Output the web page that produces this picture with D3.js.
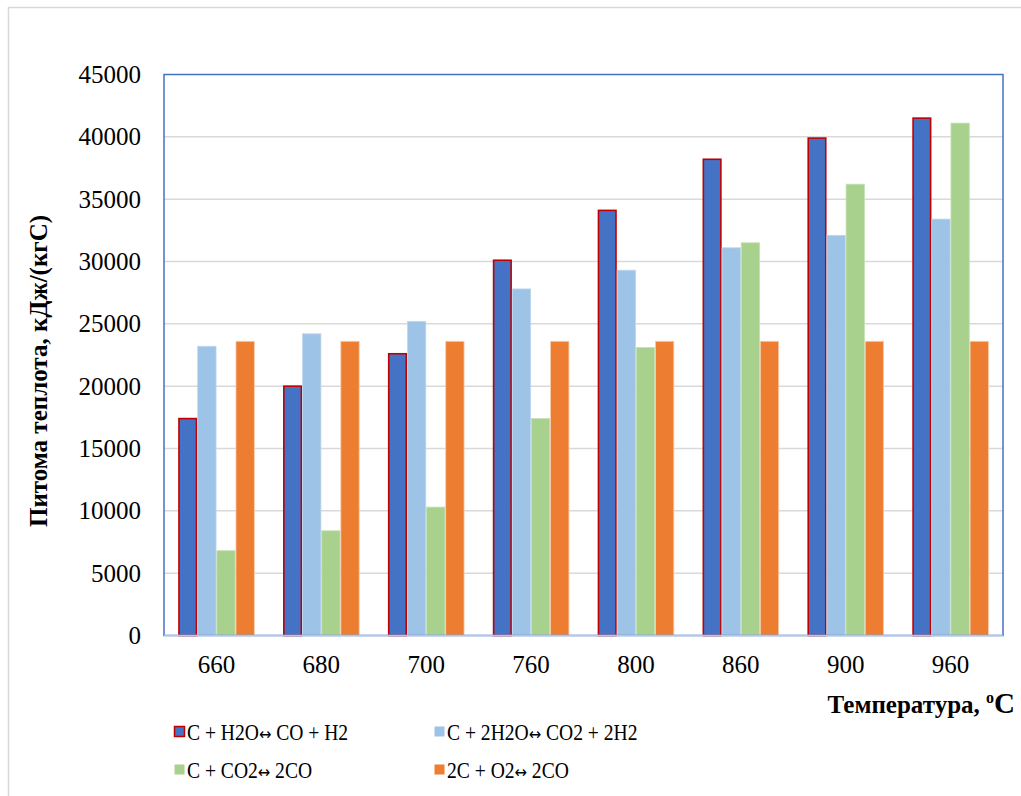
<!DOCTYPE html>
<html>
<head>
<meta charset="utf-8">
<script src="https://cdn.jsdelivr.net/npm/d3@7"></script>
<style>
  html, body { margin: 0; padding: 0; background: #fff; }
  svg { display: block; font-family: "Liberation Serif", "Times New Roman", serif; }
  .legend-label { white-space: pre; }
</style>
</head>
<body>
<svg id="chart" width="1021" height="796"></svg>
<script>
// Temperatures (°C) along the x axis
const temperatures = ["660", "680", "700", "760", "800", "860", "900", "960"];

// Specific heat per reaction, kJ/(kg C)
const reactionH2O  = [17400, 20000, 22600, 30100, 34100, 38200, 39900, 41500];
const reaction2H2O = [23200, 24200, 25200, 27800, 29300, 31100, 32100, 33400];
const reactionCO2  = [6800, 8400, 10300, 17400, 23100, 31500, 36200, 41100];
const reactionO2   = [23600, 23600, 23600, 23600, 23600, 23600, 23600, 23600];

const seriesNames = [
  "C + H2O\u2194 CO + H2",
  "C + 2H2O\u2194 CO2 + 2H2",
  "C + CO2\u2194 2CO",
  "2C + O2\u2194 2CO"
];
const yTicks = [0, 5000, 10000, 15000, 20000, 25000, 30000, 35000, 40000, 45000];

const series = [
  { name: seriesNames[0], values: reactionH2O,  fill: "#4472c4", stroke: "#c00000", sw: 1.6 },
  { name: seriesNames[1], values: reaction2H2O, fill: "#9dc3e6", stroke: "#bdd7ee", sw: 0.8 },
  { name: seriesNames[2], values: reactionCO2,  fill: "#a9d18e", stroke: "#c5e0b4", sw: 0.8 },
  { name: seriesNames[3], values: reactionO2,   fill: "#ed7d31", stroke: "#f8cbad", sw: 0.8 }
];

const svg = d3.select("#chart");

// chart frame
svg.append("rect")
  .attr("x", 8.5).attr("y", 7.5).attr("width", 1100).attr("height", 900)
  .attr("fill", "none").attr("stroke", "#d9d9d9").attr("stroke-width", 1.5);

const plot = { left: 164, right: 1003, top: 74.5, bottom: 635.5 };

const x = d3.scaleBand()
  .domain(temperatures)
  .range([plot.left, plot.right])
  .paddingInner(0.27)
  .paddingOuter(0.135);

const xs = d3.scaleBand()
  .domain(d3.range(series.length))
  .range([0, x.bandwidth()]);

const y = d3.scaleLinear()
  .domain([0, 45000])
  .range([plot.bottom, plot.top]);

// gridlines
svg.append("g")
  .selectAll("line")
  .data(yTicks.filter(t => t > 0 && t < 45000))
  .join("line")
  .attr("x1", plot.left).attr("x2", plot.right)
  .attr("y1", d => y(d)).attr("y2", d => y(d))
  .attr("stroke", "#d9d9d9").attr("stroke-width", 1.5);

// bars
const groups = svg.append("g")
  .selectAll("g")
  .data(series)
  .join("g");

groups.selectAll("rect")
  .data((s, i) => s.values.map((v, j) => ({ v, t: temperatures[j], i, s })))
  .join("rect")
  .attr("x", d => x(d.t) + xs(d.i) + d.s.sw / 2)
  .attr("width", d => xs.bandwidth() - d.s.sw)
  .attr("y", d => y(d.v))
  .attr("height", d => y(0) - y(d.v))
  .attr("fill", d => d.s.fill)
  .attr("stroke", d => d.s.stroke)
  .attr("stroke-width", d => d.s.sw);

// plot area border
svg.append("rect")
  .attr("x", plot.left).attr("y", plot.top)
  .attr("width", plot.right - plot.left).attr("height", plot.bottom - plot.top)
  .attr("fill", "none").attr("stroke", "#4472c4").attr("stroke-width", 1.5);

// baseline
svg.append("line")
  .attr("x1", plot.left).attr("x2", plot.right)
  .attr("y1", plot.bottom).attr("y2", plot.bottom)
  .attr("stroke", "#b4c7e7").attr("stroke-width", 1.5);

// y axis
const yAxis = d3.axisLeft(y).tickValues(yTicks).tickSize(0).tickPadding(0).tickFormat(d3.format("d"));
const gy = svg.append("g").attr("transform", `translate(141,0)`).call(yAxis);
gy.select(".domain").remove();
gy.selectAll("text")
  .attr("font-family", "Liberation Serif, Times New Roman, serif")
  .attr("font-size", 25).attr("fill", "#000");

// x axis
const xAxis = d3.axisBottom(x).tickSize(0).tickPadding(0);
const gx = svg.append("g").attr("transform", `translate(0,${plot.bottom + 20})`).call(xAxis);
gx.select(".domain").remove();
gx.selectAll("text")
  .attr("font-family", "Liberation Serif, Times New Roman, serif")
  .attr("font-size", 25).attr("fill", "#000");

// y axis title
svg.append("text")
  .attr("transform", "translate(47,371) rotate(-90)")
  .attr("text-anchor", "middle")
  .attr("font-size", 25).attr("font-weight", "bold").attr("fill", "#000")
  .text("Питома теплота, кДж/(кгС)");

// x axis title
const xt = svg.append("text")
  .attr("x", 1015).attr("y", 713)
  .attr("text-anchor", "end")
  .attr("font-size", 25).attr("font-weight", "bold").attr("fill", "#000");
xt.append("tspan").text("Температура, ");
xt.append("tspan").attr("font-size", 16).attr("dy", -10).text("o");
xt.append("tspan").attr("font-size", 29).attr("dy", 10).text("C");

// legend
const legendPos = [
  { x: 174, y: 732 }, { x: 434, y: 732 },
  { x: 174, y: 770 }, { x: 434, y: 770 }
];
const legend = svg.append("g")
  .selectAll("g")
  .data(series)
  .join("g")
  .attr("transform", (d, i) => `translate(${legendPos[i].x},${legendPos[i].y})`);

legend.append("rect")
  .attr("x", 0.5).attr("y", -5.5).attr("width", 10).attr("height", 10)
  .attr("fill", d => d.fill)
  .attr("stroke", (d, i) => i === 0 ? "#c00000" : "none")
  .attr("stroke-width", 1.5);

// legend labels are set slightly condensed; the arrow uses a wider glyph
const lt = legend.append("text")
  .attr("class", "legend-label")
  .attr("transform", "translate(13,8) scale(0.87,1)")
  .attr("font-size", 22.5).attr("fill", "#000");
lt.each(function (d) {
  const parts = d.name.split("\u2194");
  const t = d3.select(this);
  t.append("tspan").text(parts[0]);
  t.append("tspan")
    .attr("font-family", "DejaVu Sans, sans-serif")
    .attr("font-size", 17)
    .text("\u2194");
  t.append("tspan").text(parts[1]);
});
</script>
</body>
</html>
